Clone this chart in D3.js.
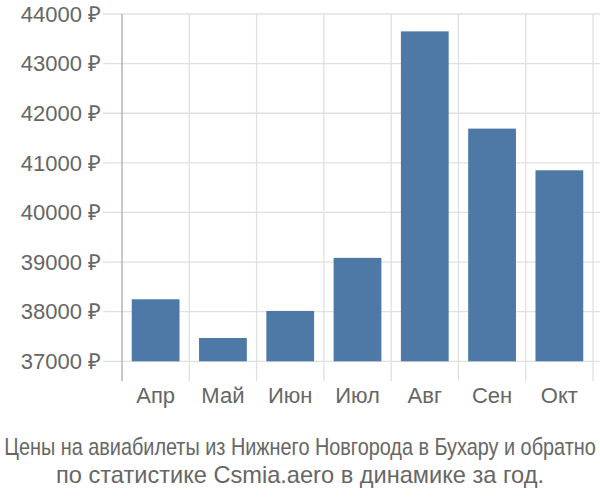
<!DOCTYPE html>
<html><head><meta charset="utf-8">
<script src="https://cdn.jsdelivr.net/npm/d3@7"></script>
<style>body{margin:0;background:#fff}svg{display:block}</style>
</head><body>
<svg id="c" width="600" height="500"></svg>
<script>
const months = ["Апр","Май","Июн","Июл","Авг","Сен","Окт"];
const prices = [38250, 37470, 38015, 39085, 43650, 41690, 40850];
const yTicks = [37000,38000,39000,40000,41000,42000,43000,44000];
const titleLines = ["Цены на авиабилеты из Нижнего Новгорода в Бухару и обратно","по статистике Csmia.aero в динамике за год."];

const svg = d3.select("#c");
const L = 122, R = 593, T = 14, B = 361.3;
const x = d3.scaleBand().domain(months).range([L, R]).paddingInner(0.29).paddingOuter(0.145);
const y = d3.scaleLinear().domain([37000, 44000]).range([B, T]);
const font = "'Liberation Sans', Arial, sans-serif";

// horizontal grid
svg.append("g").selectAll("line").data(yTicks).join("line")
  .attr("x1", 103).attr("x2", 600).attr("y1", d=>y(d)).attr("y2", d=>y(d))
  .attr("stroke", "#e0e0e0").attr("stroke-width", 1.3);
// vertical grid
const bounds = months.map((m,i)=>L + i*(R-L)/months.length).concat([R]);
svg.append("g").selectAll("line").data(bounds.slice(1)).join("line")
  .attr("x1", d=>d).attr("x2", d=>d).attr("y1", T).attr("y2", 381)
  .attr("stroke", "#e0e0e0").attr("stroke-width", 1.3);

// bars
svg.append("g").selectAll("rect").data(prices).join("rect")
  .attr("x", (d,i)=>x(months[i])).attr("width", x.bandwidth())
  .attr("y", d=>y(d)).attr("height", d=>B - y(d))
  .attr("fill", "#4e79a7");

// y axis line
svg.append("line").attr("x1", L).attr("x2", L).attr("y1", T).attr("y2", 381)
  .attr("stroke", "#aaa").attr("stroke-width", 1.3);

// y labels
svg.append("g").selectAll("text").data(yTicks).join("text")
  .attr("x", 101).attr("y", d=>y(d)).attr("dy", "0.35em")
  .attr("text-anchor", "end").attr("font-family", font).attr("font-size", 22)
  .attr("fill", "#666").text(d=>d + " ₽");

// x labels
svg.append("g").selectAll("text").data(months).join("text")
  .attr("x", d=>x(d) + x.bandwidth()/2).attr("y", 403)
  .attr("text-anchor", "middle").attr("font-family", font).attr("font-size", 22)
  .attr("fill", "#666").text(d=>d);

// title line 1 (horizontally condensed to fit the width)
const t1 = svg.append("text").attr("x", 0).attr("y", 0).attr("text-anchor","middle")
  .attr("font-family", font).attr("font-size", 23).attr("fill", "#666")
  .text(titleLines[0]);
const w1 = t1.node().getComputedTextLength();
const k = Math.min(1, 592 / w1);
t1.attr("transform", `translate(300,455) scale(${k},1)`);

svg.append("text").attr("x", 300).attr("y", 483).attr("text-anchor","middle")
  .attr("font-family", font).attr("font-size", 23.6).attr("fill", "#666").text(titleLines[1]);
</script>
</body></html>
